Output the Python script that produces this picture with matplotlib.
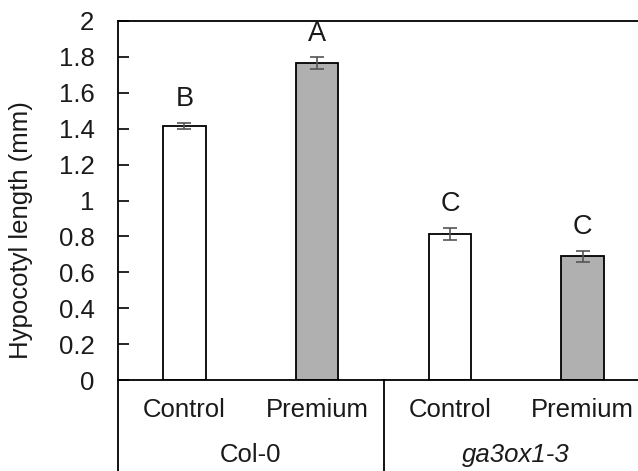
import matplotlib
matplotlib.use("Agg")
import matplotlib.pyplot as plt
import matplotlib.transforms as mtransforms

plt.rcParams['font.family'] = ['Liberation Sans', 'DejaVu Sans']

treatments = ["Control", "Premium", "Control", "Premium"]
genotypes = ["Col-0", "ga3ox1-3"]
values = [1.415, 1.765, 0.815, 0.69]
errors = [0.018, 0.032, 0.033, 0.03]
letters = ["B", "A", "C", "C"]
colors = ["white", "#b0b0b0", "white", "#b0b0b0"]
yticks = [0, 0.2, 0.4, 0.6, 0.8, 1, 1.2, 1.4, 1.6, 1.8, 2]
yticklabels = ["0", "0.2", "0.4", "0.6", "0.8", "1", "1.2", "1.4", "1.6", "1.8", "2"]

W, H = 638, 471
fig = plt.figure(figsize=(W / 100, H / 100), dpi=100)
ax_left, ax_bottom, ax_top = 118, 91, 450
ax_w = 531
ax = fig.add_axes([ax_left / W, ax_bottom / H, ax_w / W, (ax_top - ax_bottom) / H])

fs = 18.5
tc = "#1a1a1a"
x = list(range(len(values)))
ax.bar(x, values, width=0.32, color=colors, edgecolor="black", linewidth=1.3, zorder=2)
ax.errorbar(x, values, yerr=errors, fmt="none", ecolor="#555555", elinewidth=1.2,
            capsize=5, capthick=1.2, zorder=3)
for xi, v, e, l in zip(x, values, errors, letters):
    ax.text(xi, v + e + 0.06, l, ha="center", va="bottom", fontsize=fs + 1, color=tc)

ax.set_xlim(-0.5, 3.5)
ax.set_ylim(0, 2)
ax.set_yticks(yticks)
ax.set_yticklabels(yticklabels)
ax.set_xticks([])
ax.tick_params(axis="y", direction="in", length=8, width=1.2, pad=17, labelsize=fs,
               labelcolor=tc)
for s in ["left", "bottom", "top"]:
    ax.spines[s].set_linewidth(1.3)
ax.spines["right"].set_visible(False)

ax.set_ylabel("Hypocotyl length (mm)", fontsize=fs, color=tc)
ax.yaxis.set_label_coords(-0.16, 0.418)

axh = ax_top - ax_bottom
blend = mtransforms.blended_transform_factory(ax.transData, ax.transAxes)
for xi, t in zip(x, treatments):
    ax.text(xi, -30 / axh, t, transform=blend, ha="center", va="center", fontsize=fs, color=tc)
ax.text(0.5, -75 / axh, genotypes[0], transform=blend, ha="center", va="center", fontsize=fs, color=tc)
ax.text(2.5, -75 / axh, genotypes[1], transform=blend, ha="center", va="center", fontsize=fs,
        style="italic", color=tc)

# left spine extension and group separator
ax.plot([0, 0], [0, -ax_bottom / axh - 0.01], transform=ax.transAxes, color="black", lw=1.3, clip_on=False)
ax.plot([1.5, 1.5], [0, -ax_bottom / axh - 0.01], transform=blend, color="black", lw=1.3, clip_on=False)

fig.savefig("out.png", dpi=100)
